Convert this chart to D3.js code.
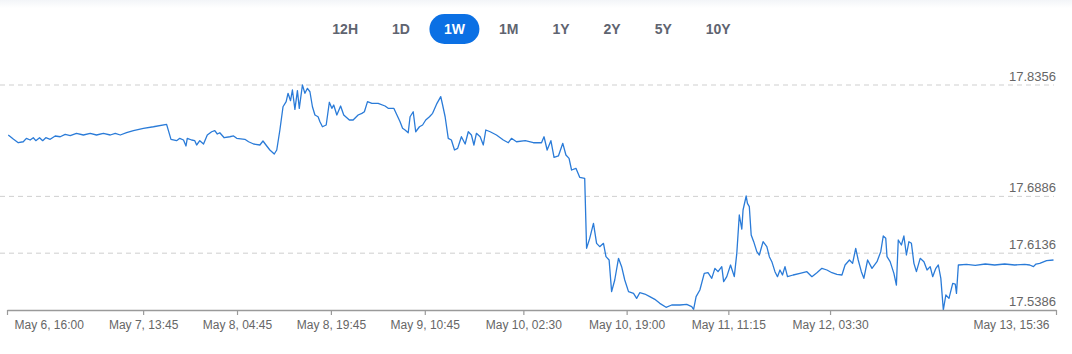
<!DOCTYPE html>
<html>
<head>
<meta charset="utf-8">
<script src="https://cdn.jsdelivr.net/npm/d3@7"></script>
<style>
  html, body { margin: 0; padding: 0; background: #fff; }
  #chart { width: 1072px; height: 354px; }
  text { font-family: "Liberation Sans", Arial, sans-serif; }
</style>
</head>
<body>
<div id="chart"></div>
<script>
// range buttons
const ranges = ["12H", "1D", "1W", "1M", "1Y", "2Y", "5Y", "10Y"];
const activeRange = "1W";

// time axis
const startTime = "2023-05-06 16:00";
const endTime = "2023-05-13 15:36";
const tickTimes = ["2023-05-06 16:00", "2023-05-07 13:45", "2023-05-08 04:45", "2023-05-08 19:45",
    "2023-05-09 10:45", "2023-05-10 02:30", "2023-05-10 19:00", "2023-05-11 11:15",
    "2023-05-12 03:30", "2023-05-13 15:36"];

// y grid levels
const yTicks = [17.5386, 17.6136, 17.6886, 17.8356];

// series: hours after start, price
const hours = [0.2, 1.0, 1.8, 2.6, 3.1, 3.7, 4.2, 4.6, 5.2, 5.7, 6.2, 6.9, 7.7, 8.5, 9.3, 10.1, 11.1, 12.2, 13.3, 14.3,
    15.4, 16.5, 17.3, 18.1, 19.1, 20.2, 21.8, 23.4, 25.5, 26.2, 27.1, 27.6, 28.2, 28.6, 28.8, 29.5, 30.0, 30.3, 30.8, 31.4,
    32.0, 32.7, 33.2, 33.6, 34.0, 34.7, 35.6, 36.2, 36.7, 38.0, 38.6, 39.4, 40.4, 40.9, 41.5, 42.0, 42.7, 43.1, 43.6, 44.1,
    44.6, 44.9, 45.3, 45.6, 46.0, 46.4, 46.7, 47.2, 47.6, 48.0, 48.4, 48.8, 49.2, 49.7, 50.0, 50.4, 51.0, 51.5, 51.9, 52.2,
    52.7, 53.3, 53.8, 54.7, 55.3, 56.1, 56.7, 57.1, 57.6, 58.3, 59.3, 60.4, 60.9, 61.8, 62.3, 62.8, 63.2, 63.6, 64.1, 64.4,
    64.9, 65.3, 65.9, 66.4, 66.9, 67.5, 68.0, 68.7, 69.3, 69.6, 70.0, 70.5, 71.0, 71.5, 72.0, 72.6, 73.2, 73.7, 74.2, 74.6,
    75.0, 75.6, 76.1, 76.5, 77.2, 78.2, 79.3, 80.1, 80.6, 81.4, 82.8, 84.1, 85.4, 85.8, 86.3, 86.9, 87.4, 88.1, 88.8, 89.3,
    89.8, 90.2, 90.9, 91.5, 92.3, 92.6, 93.1, 93.7, 94.2, 94.7, 95.3, 95.7, 96.2, 96.6, 97.1, 97.7, 98.2, 98.7, 99.3, 100.1,
    100.6, 101.1, 101.9, 102.7, 103.5, 104.3, 105.3, 106.2, 107.5, 108.6, 109.4, 109.7, 110.1, 110.7, 111.4, 112.0, 112.6, 113.1, 113.6, 114.2,
    114.5, 115.0, 115.6, 116.2, 116.6, 117.0, 117.4, 117.6, 118.1, 118.3, 118.6, 118.9, 119.3, 119.8, 120.2, 120.8, 121.4, 121.8, 122.2, 122.7,
    123.1, 123.5, 123.9, 124.3, 124.7, 125.6, 126.7, 127.8, 128.6, 129.4, 130.2, 131.0, 131.8, 132.6, 133.4, 133.9, 134.6, 135.1, 135.6, 136.0,
    136.5, 136.9, 137.5, 138.2, 139.0, 139.6, 140.0, 140.4, 140.6, 141.1, 141.7, 142.1, 142.4, 142.9, 143.3, 143.7, 144.1, 144.5, 144.9, 145.3,
    145.9, 146.5, 147.0, 147.5, 147.9, 148.4, 148.8, 149.2, 149.6, 150.0, 150.5, 151.1, 151.5, 151.7, 152.0, 153.3, 154.7, 156.3, 157.8, 159.4,
    161.0, 162.6, 163.4, 164.0, 164.4, 165.0, 166.1, 167.2];
const prices = [17.7696, 17.7643, 17.7594, 17.7607, 17.7652, 17.7630, 17.7660, 17.7621, 17.7660, 17.7621, 17.7660, 17.7639, 17.7683, 17.7673, 17.7705, 17.7687, 17.7718, 17.7696, 17.7718, 17.7696,
    17.7718, 17.7696, 17.7718, 17.7696, 17.7726, 17.7753, 17.7784, 17.7805, 17.7837, 17.7639, 17.7621, 17.7652, 17.7630, 17.7551, 17.7652, 17.7630, 17.7621, 17.7564, 17.7621, 17.7577,
    17.7696, 17.7739, 17.7753, 17.7709, 17.7726, 17.7660, 17.7673, 17.7683, 17.7652, 17.7639, 17.7607, 17.7577, 17.7564, 17.7617, 17.7551, 17.7498, 17.7445, 17.7498, 17.7762, 17.8069,
    17.8136, 17.8246, 17.8149, 17.8290, 17.8035, 17.8281, 17.8048, 17.8356, 17.8246, 17.8312, 17.8267, 17.8069, 17.7960, 17.7937, 17.7871, 17.7805, 17.7828, 17.8128, 17.8048, 17.8092,
    17.7960, 17.8079, 17.7960, 17.7894, 17.7894, 17.7960, 17.7982, 17.8003, 17.8136, 17.8114, 17.8114, 17.8079, 17.8048, 17.8048, 17.7960, 17.7871, 17.7784, 17.7762, 17.7726, 17.7937,
    17.8003, 17.7739, 17.7805, 17.7828, 17.7894, 17.7937, 17.7982, 17.8114, 17.8202, 17.8092, 17.7937, 17.7652, 17.7630, 17.7498, 17.7520, 17.7673, 17.7577, 17.7739, 17.7696, 17.7564,
    17.7718, 17.7673, 17.7564, 17.7762, 17.7739, 17.7696, 17.7630, 17.7594, 17.7652, 17.7607, 17.7621, 17.7594, 17.7594, 17.7673, 17.7498, 17.7621, 17.7402, 17.7419, 17.7586, 17.7432,
    17.7388, 17.7234, 17.7256, 17.7138, 17.7124, 17.6200, 17.6332, 17.6530, 17.6266, 17.6222, 17.6266, 17.6090, 17.6046, 17.5628, 17.5782, 17.6068, 17.5958, 17.5782, 17.5628, 17.5606,
    17.5540, 17.5614, 17.5597, 17.5562, 17.5527, 17.5474, 17.5422, 17.5452, 17.5452, 17.5461, 17.5430, 17.5395, 17.5562, 17.5650, 17.5870, 17.5878, 17.5804, 17.5936, 17.5892, 17.5958,
    17.5760, 17.5826, 17.5980, 17.5826, 17.6134, 17.6640, 17.6455, 17.6706, 17.6891, 17.6794, 17.6750, 17.6376, 17.6288, 17.6156, 17.6112, 17.6288, 17.6222, 17.6090, 17.6024, 17.5892,
    17.5826, 17.5914, 17.5848, 17.5958, 17.5826, 17.5848, 17.5870, 17.5892, 17.5826, 17.5878, 17.5936, 17.5914, 17.5878, 17.5857, 17.5848, 17.5980, 17.6046, 17.6002, 17.6200, 17.6046,
    17.5892, 17.5804, 17.6046, 17.5936, 17.6024, 17.6156, 17.6363, 17.6332, 17.6090, 17.6024, 17.5870, 17.5716, 17.6310, 17.6244, 17.6363, 17.6112, 17.6288, 17.6266, 17.6002, 17.5892,
    17.6068, 17.6024, 17.5914, 17.5958, 17.5826, 17.5936, 17.5980, 17.5804, 17.5386, 17.5584, 17.5540, 17.5738, 17.5729, 17.5606, 17.5980, 17.5989, 17.5976, 17.5993, 17.5980, 17.5993,
    17.5980, 17.5989, 17.5980, 17.5958, 17.5993, 17.6002, 17.6037, 17.6046];

const width = 1072, height = 354;
const plot = { left: 7, right: 1056, top: 85, bottom: 310 };

const parseTime = d3.timeParse("%Y-%m-%d %H:%M");
const t0 = parseTime(startTime);
const series = hours.map((h, i) => ({ date: d3.timeMinute.offset(t0, Math.round(h * 60)), value: prices[i] }));

const svg = d3.select("#chart").append("svg")
    .attr("width", width)
    .attr("height", height);

// faint top band
const defs = svg.append("defs");
const grad = defs.append("linearGradient").attr("id", "topband").attr("x1", 0).attr("y1", 0).attr("x2", 0).attr("y2", 1);
grad.append("stop").attr("offset", "0%").attr("stop-color", "#f3f5f8");
grad.append("stop").attr("offset", "100%").attr("stop-color", "#ffffff");
svg.append("rect").attr("x", 0).attr("y", 0).attr("width", width).attr("height", 8).attr("fill", "url(#topband)");

// range buttons, laid out by their text width
const btnGroup = svg.append("g");
const btns = btnGroup.selectAll("g").data(ranges).join("g");
btns.append("text")
    .attr("y", 34)
    .attr("text-anchor", "middle")
    .attr("font-size", 14)
    .attr("font-weight", "bold")
    .attr("fill", d => d === activeRange ? "#fff" : "#5f6470")
    .text(d => d);
const pad = 14.5, gap = 5;
const widths = [];
btns.select("text").each(function () { widths.push(this.getComputedTextLength() + 2 * pad); });
const total = d3.sum(widths) + gap * (widths.length - 1);
let cursor = 531.5 - total / 2;
btns.each(function (d, i) {
    const w = widths[i];
    const g = d3.select(this).attr("transform", `translate(${cursor + w / 2},0)`);
    if (d === activeRange) {
        g.insert("rect", "text")
            .attr("x", -w / 2).attr("y", 14).attr("width", w).attr("height", 30).attr("rx", 15)
            .attr("fill", "#0b70e4");
    }
    cursor += w + gap;
});

const x = d3.scaleTime()
    .domain([t0, parseTime(endTime)])
    .range([plot.left, plot.right]);

const y = d3.scaleLinear()
    .domain([yTicks[0], yTicks[yTicks.length - 1]])
    .range([plot.bottom, plot.top]);

// dashed grid lines + labels on the right
const grid = svg.append("g");
grid.selectAll("line").data(yTicks.slice(1)).join("line")
    .attr("x1", 0).attr("x2", 1054)
    .attr("y1", d => y(d)).attr("y2", d => y(d))
    .attr("stroke", "#cfcfcf")
    .attr("stroke-dasharray", "5,4");
grid.selectAll("text").data(yTicks).join("text")
    .attr("x", 1056)
    .attr("y", d => y(d) - 4)
    .attr("text-anchor", "end")
    .attr("font-size", 13)
    .attr("fill", "#666")
    .text(d => d.toFixed(4));

// line
svg.append("path")
    .datum(series)
    .attr("fill", "none")
    .attr("stroke", "#2a7bd8")
    .attr("stroke-width", 1.3)
    .attr("stroke-linejoin", "round")
    .attr("d", d3.line().x(d => x(d.date)).y(d => y(d.value)));

// x axis
const fmt = d3.timeFormat("%b %-d, %H:%M");
const tickDates = tickTimes.map(parseTime);
const xAxis = svg.append("g")
    .attr("transform", `translate(0,${plot.bottom})`)
    .call(d3.axisBottom(x).tickValues(tickDates).tickFormat(fmt).tickSize(5).tickSizeOuter(0).tickPadding(5));
xAxis.select(".domain").attr("stroke", "#9a9a9a").attr("stroke-width", 1.5);
xAxis.selectAll(".tick line").attr("stroke", "#9a9a9a").attr("stroke-width", 1.2);
xAxis.selectAll(".tick text")
    .attr("font-family", "'Liberation Sans', Arial, sans-serif")
    .attr("font-size", 12)
    .attr("fill", "#666");
xAxis.selectAll(".tick").filter((d, i) => i === 0).select("text")
    .attr("text-anchor", "start").attr("x", 7);
xAxis.selectAll(".tick").filter((d, i) => i === tickDates.length - 1).select("text")
    .attr("text-anchor", "end").attr("x", -7);
</script>
</body>
</html>
